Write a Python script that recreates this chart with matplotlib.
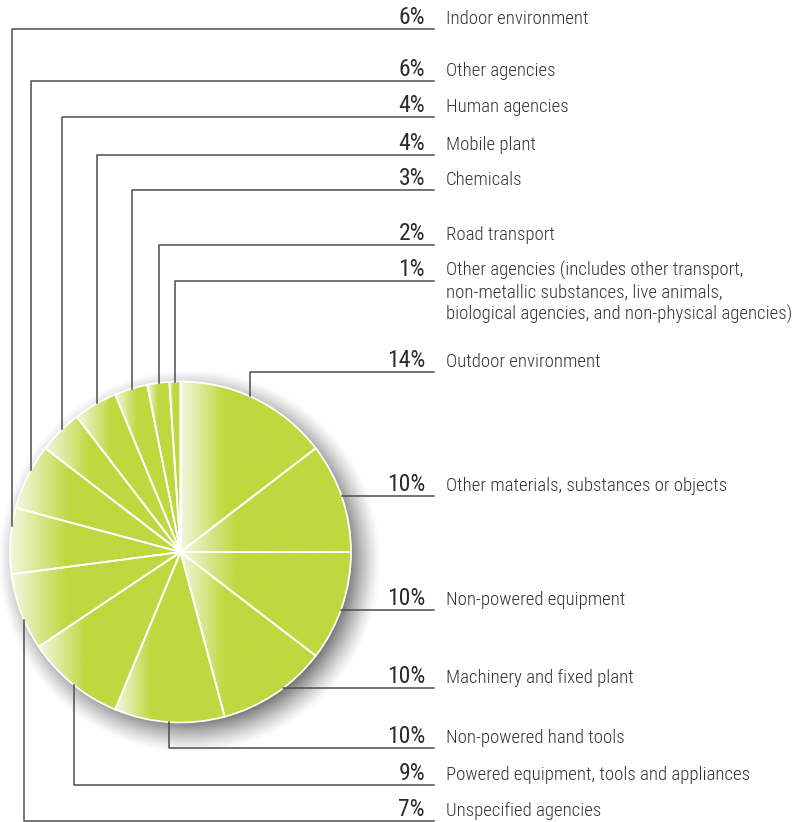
import numpy as np
import matplotlib.pyplot as plt
from matplotlib.colors import to_rgb

plt.rcParams['font.family'] = ['Roboto Condensed', 'DejaVu Sans']

W, H = 797, 822

# slices, clockwise from 12 o'clock
labels = ['Outdoor environment',
          'Other materials, substances or objects',
          'Non-powered equipment',
          'Machinery and fixed plant',
          'Non-powered hand tools',
          'Powered equipment, tools and appliances',
          'Unspecified agencies',
          'Indoor environment',
          'Other agencies',
          'Human agencies',
          'Mobile plant',
          'Chemicals',
          'Road transport',
          'Other agencies (includes other transport,\nnon-metallic substances, live animals,\n'
          'biological agencies, and non-physical agencies)']
shares = [14, 10, 10, 10, 10, 9, 7, 6, 6, 4, 4, 3, 2, 1]

# pixel row of each label underline, and x where its leader leaves the pie
label_y = [372, 496, 610, 688, 748, 785, 821, 29, 81, 117, 155, 190, 245, 281]
leader_x = [250, None, None, None, 169, 74, 24, 12, 31, 62, 97, 132, 159, 175]

green = np.array(to_rgb('#bfd83f'))
light = np.array(to_rgb('#f4f7e2'))

fig = plt.figure(figsize=(W / 100, H / 100), dpi=100)
ax = fig.add_axes([0, 0, 1, 1])

cx, cy, R = 180.5, H - 552, 170.5

# soft drop shadow
sx, sy = cx + 9, cy - 10
ext = [cx - R - 40, cx + R + 60, cy - R - 60, cy + R + 40]
gx = np.linspace(ext[0], ext[1], 400)
gy = np.linspace(ext[2], ext[3], 400)
XX, YY = np.meshgrid(gx, gy)
d = np.hypot(XX - sx, YY - sy)
a = 0.55 * np.clip((R + 22 - d) / 34, 0, 1) ** 1.3
shadow = np.zeros((400, 400, 4))
shadow[..., 3] = a
ax.imshow(shadow, extent=ext, origin='lower', aspect='auto', zorder=1)

wedges, _ = ax.pie(shares, startangle=90, counterclock=False, center=(cx, cy), radius=R,
                   wedgeprops=dict(facecolor='none', edgecolor='white', linewidth=1.3, zorder=3))

# horizontal white-to-green gradient inside each slice
for w in wedges:
    bb = w.get_path().get_extents()
    x0, x1 = bb.x0, bb.x1
    xs = np.linspace(x0, x1, 300)
    t = np.clip((xs - x0) / (0.33 * (x1 - x0)), 0, 1)
    img = (light[None, :] + (green - light)[None, :] * t[:, None])[None, :, :]
    im = ax.imshow(img, extent=[x0, x1, bb.y0, bb.y1], aspect='auto',
                   interpolation='bilinear', zorder=2)
    im.set_clip_path(w)

# leader lines and labels
line_end = 434
for lab, pct, y, lx in zip(labels, shares, label_y, leader_x):
    yd = H - y
    if lx is None:
        x_start = cx + np.sqrt(R ** 2 - (yd - cy) ** 2)
        ax.plot([x_start, line_end], [yd, yd], color='#4d4d4d', lw=1.1, zorder=4)
    else:
        h = np.sqrt(max(R ** 2 - (lx - cx) ** 2, 0))
        y_start = cy + h if yd > cy else cy - h
        ax.plot([lx, lx, line_end], [y_start, yd, yd], color='#4d4d4d', lw=1.1, zorder=4)
    ax.text(425, yd + 5, f'{pct}%', ha='right', va='baseline', fontsize=17,
            color='#2b2b2b')
    for i, part in enumerate(lab.split('\n')):
        ax.text(446, yd + 5 - 22 * i, part, ha='left', va='baseline', fontsize=13.5,
                fontweight=300, color='#333333')

ax.set_xlim(0, W)
ax.set_ylim(0, H)
ax.axis('off')

plt.savefig('out.png', dpi=100)
